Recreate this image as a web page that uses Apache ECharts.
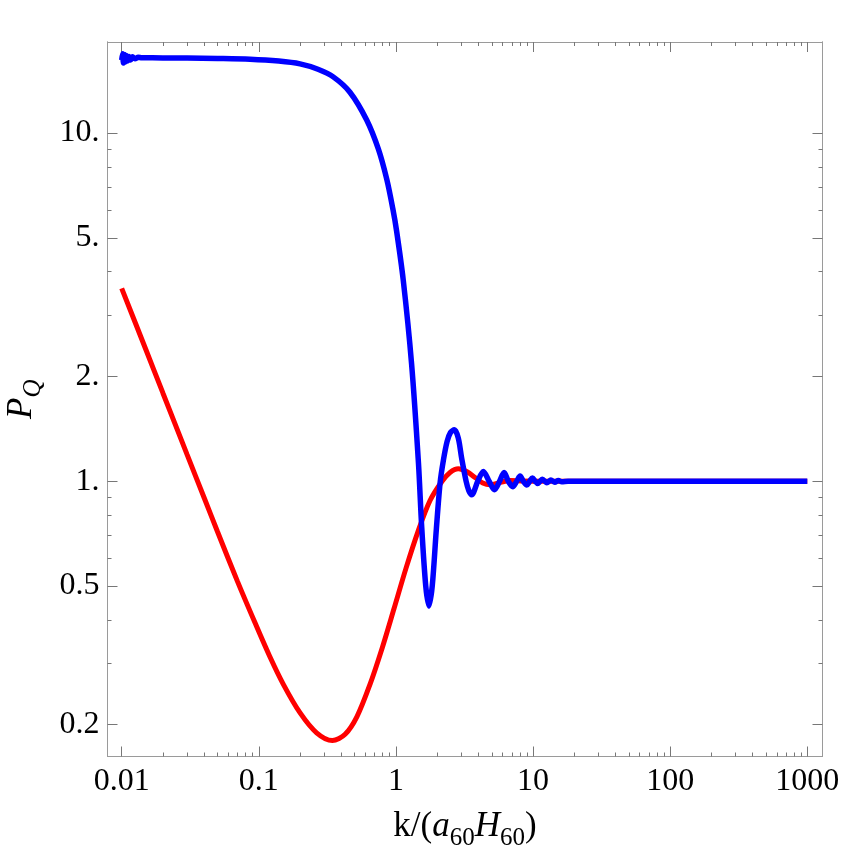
<!DOCTYPE html>
<html>
<head>
<meta charset="utf-8">
<script src="https://cdn.jsdelivr.net/npm/echarts@6/dist/echarts.min.js"></script>
<style>
html,body{margin:0;padding:0;background:#fff;}
#chart{width:843px;height:850px;}
</style>
</head>
<body>
<div id="chart"></div>
<script>
// ---- data ----
const redK = [0.01, 0.015, 0.02, 0.03, 0.04, 0.05, 0.07, 0.0937, 0.12, 0.151, 0.1995, 0.264, 0.344, 0.426, 0.52, 0.647, 0.792, 0.969, 1.185, 1.45, 1.77, 2.17, 2.48, 2.85, 3.3, 3.8, 4.3, 4.86, 5.8, 6.8, 8.5, 10, 20, 50, 100, 300, 1000];
const redP = [3.58, 2.39, 1.79, 1.193, 0.895, 0.716, 0.515, 0.3928, 0.3144, 0.2611, 0.2165, 0.1895, 0.180, 0.1877, 0.211, 0.261, 0.331, 0.431, 0.563, 0.718, 0.879, 1.0, 1.06, 1.086, 1.065, 1.023, 0.989, 0.977, 0.993, 1.005, 1.001, 1.0, 1.0, 1.0, 1.0, 1.0, 1.0];

const blueK = [0.01, 0.01015, 0.0103, 0.01045, 0.0106, 0.0108, 0.011, 0.0113, 0.0116, 0.012, 0.0125, 0.0132, 0.014, 0.02, 0.03, 0.05, 0.0863, 0.14, 0.2, 0.27, 0.349, 0.462, 0.612, 0.744, 0.857, 0.95, 1.01, 1.13, 1.3, 1.46, 1.54, 1.65, 1.74, 1.84, 1.97, 2.1, 2.22, 2.36, 2.5, 2.67, 2.85, 3.02, 3.25, 3.4, 3.57, 3.95, 4.34, 4.78, 5.23, 5.7, 6.15, 6.6, 7.11, 7.6, 8.04, 8.5, 9.0, 9.45, 9.9, 10.35, 10.8, 11.25, 11.7, 12.6, 13.5, 14.4, 15.3, 16.2, 18, 30, 100, 300, 1000];
const blueP = [16.2, 16.9, 15.9, 16.8, 16.0, 16.7, 16.1, 16.6, 16.2, 16.55, 16.35, 16.5, 16.45, 16.44, 16.42, 16.38, 16.3, 16.1, 15.8, 15.25, 14.5, 13.1, 10.9, 9.0, 7.37, 6.05, 5.25, 3.79, 2.18, 1.127, 0.744, 0.5, 0.438, 0.5, 0.726, 0.99, 1.15, 1.30, 1.38, 1.405, 1.33, 1.16, 1.0, 0.94, 0.915, 1.0, 1.067, 1.0, 0.945, 1.0, 1.06, 1.0, 0.965, 1.0, 1.035, 1.0, 0.975, 1.0, 1.022, 1.0, 0.985, 1.0, 1.013, 0.99, 1.008, 0.994, 1.005, 0.997, 1.0, 1.0, 1.0, 1.0, 1.0];

const xMajor = [0.01, 0.1, 1, 10, 100, 1000];
const xMajorLabels = ['0.01', '0.1', '1', '10', '100', '1000'];
const xMinor = [];
[0.01, 0.1, 1, 10, 100].forEach(d => { for (let m = 2; m <= 9; m++) xMinor.push(+(d * m).toPrecision(3)); });
const yMajor = [0.2, 0.5, 1, 2, 5, 10];
const yMajorLabels = ['0.2', '0.5', '1.', '2.', '5.', '10.'];
const yMinor = [0.3, 0.4, 0.6, 0.7, 0.8, 0.9, 3, 4, 6, 7, 8, 9];

const xMin = 0.00788, xMax = 1291;
const yMin = 0.162, yMax = 18.26;

function pick(vals, labels) {
  return function (v) {
    let best = 0, bd = Infinity;
    for (let i = 0; i < vals.length; i++) {
      const d = Math.abs(Math.log(v / vals[i]));
      if (d < bd) { bd = d; best = i; }
    }
    return labels[best];
  };
}

const FONT = '"Liberation Serif", "DejaVu Serif", serif';
const axisGrey = '#9a9a9a';
const tickGrey = '#777';

function xAx(pos, values, len, labels, extra) {
  return Object.assign({
    type: 'log', logBase: 10, min: xMin, max: xMax, position: pos, gridIndex: 0,
    axisLine: { show: true, lineStyle: { color: axisGrey, width: 1 } },
    axisTick: { show: true, inside: true, length: len, customValues: values, lineStyle: { color: tickGrey, width: 1 } },
    axisLabel: labels ? { show: true, customValues: values, formatter: pick(xMajor, xMajorLabels), fontFamily: FONT, fontSize: 32, color: '#000', margin: 9 } : { show: false },
    splitLine: { show: false }, minorTick: { show: false }
  }, extra || {});
}
function yAx(pos, values, len, labels, extra) {
  return Object.assign({
    type: 'log', logBase: 10, min: yMin, max: yMax, position: pos, gridIndex: 0,
    axisLine: { show: true, lineStyle: { color: axisGrey, width: 1 } },
    axisTick: { show: true, inside: true, length: len, customValues: values, lineStyle: { color: tickGrey, width: 1 } },
    axisLabel: labels ? { show: true, customValues: values, formatter: pick(yMajor, yMajorLabels), fontFamily: FONT, fontSize: 32, color: '#000', margin: 8 } : { show: false },
    splitLine: { show: false }, minorTick: { show: false }
  }, extra || {});
}

const chart = echarts.init(document.getElementById('chart'), null, { renderer: 'canvas' });
chart.setOption({
  animation: false,
  backgroundColor: '#fff',
  grid: { left: 107.5, right: 20.5, top: 42, bottom: 93.5, containLabel: false, outerBoundsMode: 'none' },
  xAxis: [
    xAx('bottom', xMajor, 10, true, {
      name: '{n|k/(}{i|a}{s|60}{i|H}{s|60}{n|)}',
      nameLocation: 'middle', nameGap: 50,
      nameTextStyle: {
        fontFamily: FONT, fontSize: 35, color: '#000',
        rich: {
          n: { fontFamily: FONT, fontSize: 35, color: '#000', lineHeight: 40 },
          i: { fontFamily: FONT, fontSize: 35, fontStyle: 'italic', color: '#000', lineHeight: 40 },
          s: { fontFamily: FONT, fontSize: 25, color: '#000', verticalAlign: 'bottom', lineHeight: 24, padding: [0, 0, -4, 0] }
        }
      }
    }),
    xAx('bottom', xMinor, 4, false),
    xAx('top', xMajor, 10, false),
    xAx('top', xMinor, 4, false)
  ],
  yAxis: [
    yAx('left', yMajor, 10, true, {
      name: '{i|P}{s|Q}',
      nameLocation: 'middle', nameGap: 66, nameRotate: 90,
      nameTextStyle: {
        fontFamily: FONT, fontSize: 35, color: '#000',
        rich: {
          i: { fontFamily: FONT, fontSize: 35, fontStyle: 'italic', color: '#000', lineHeight: 40 },
          s: { fontFamily: FONT, fontSize: 25, fontStyle: 'italic', color: '#000', verticalAlign: 'bottom', lineHeight: 24, padding: [0, 0, -4, 0] }
        }
      }
    }),
    yAx('left', yMinor, 4, false),
    yAx('right', yMajor, 10, false),
    yAx('right', yMinor, 4, false)
  ],
  series: [
    {
      type: 'line', xAxisIndex: 0, yAxisIndex: 0, name: 'red',
      data: redK.map((k, i) => [k, redP[i]]),
      showSymbol: false, smooth: 0.3, clip: true,
      lineStyle: { color: '#ff0000', width: 5 }, z: 2
    },
    {
      type: 'line', xAxisIndex: 0, yAxisIndex: 0, name: 'blue',
      data: blueK.map((k, i) => [k, blueP[i]]),
      showSymbol: false, smooth: 0.3, clip: true,
      lineStyle: { color: '#0000ff', width: 5.5 }, z: 3
    }
  ]
});
</script>
</body>
</html>
